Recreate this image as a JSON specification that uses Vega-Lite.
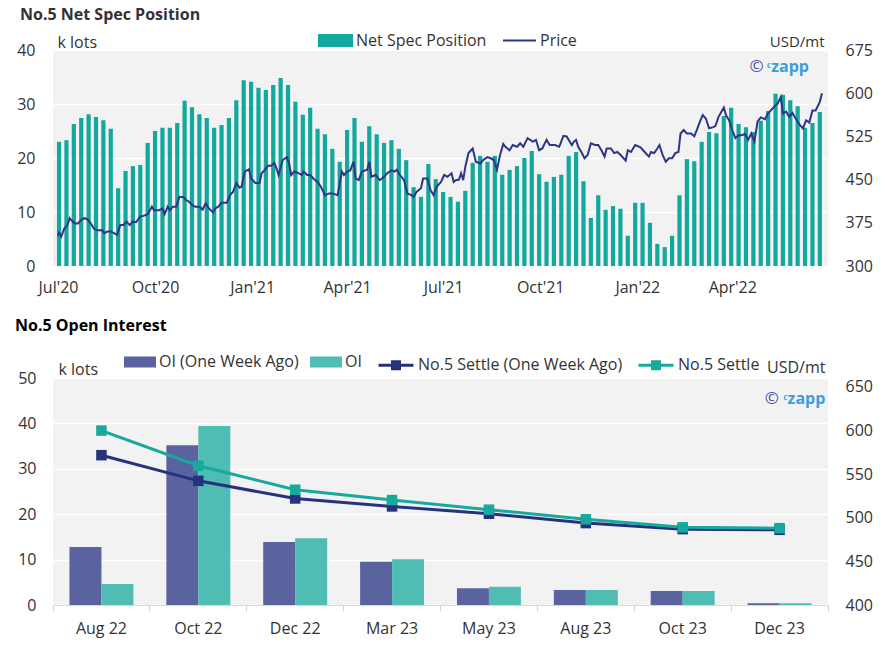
{
  "$schema": "https://vega.github.io/schema/vega-lite/v6.json",
  "background": "white",
  "padding": {"left": 15, "top": 7, "right": 5, "bottom": 5},
  "spacing": 22,
  "resolve": {"scale": {"fill": "independent", "stroke": "independent", "color": "independent"}, "legend": {"fill": "independent", "stroke": "independent", "color": "independent"}},
  "datasets": {
    "spec": [
      {"date":"2020-07-02","net":23.0},{"date":"2020-07-09","net":23.3},{"date":"2020-07-16","net":26.3},{"date":"2020-07-23","net":27.4},{"date":"2020-07-30","net":28.1},
      {"date":"2020-08-06","net":27.6},{"date":"2020-08-13","net":27.0},{"date":"2020-08-20","net":25.4},{"date":"2020-08-27","net":14.4},
      {"date":"2020-09-03","net":17.6},{"date":"2020-09-10","net":18.5},{"date":"2020-09-17","net":18.7},{"date":"2020-09-24","net":22.8},
      {"date":"2020-10-01","net":25.0},{"date":"2020-10-08","net":25.6},{"date":"2020-10-15","net":25.6},{"date":"2020-10-22","net":26.5},{"date":"2020-10-29","net":30.6},
      {"date":"2020-11-05","net":29.4},{"date":"2020-11-12","net":28.1},{"date":"2020-11-19","net":27.4},{"date":"2020-11-26","net":25.6},
      {"date":"2020-12-03","net":26.1},{"date":"2020-12-10","net":27.4},{"date":"2020-12-17","net":30.7},{"date":"2020-12-24","net":34.4},{"date":"2020-12-31","net":34.1},
      {"date":"2021-01-07","net":33.0},{"date":"2021-01-14","net":32.6},{"date":"2021-01-21","net":33.5},{"date":"2021-01-28","net":34.8},
      {"date":"2021-02-04","net":33.5},{"date":"2021-02-11","net":30.4},{"date":"2021-02-18","net":28.0},{"date":"2021-02-25","net":29.3},
      {"date":"2021-03-04","net":25.4},{"date":"2021-03-11","net":24.4},{"date":"2021-03-18","net":21.7},{"date":"2021-03-25","net":19.3},
      {"date":"2021-04-01","net":25.2},{"date":"2021-04-08","net":27.4},{"date":"2021-04-15","net":23.0},{"date":"2021-04-22","net":25.9},{"date":"2021-04-29","net":24.4},
      {"date":"2021-05-06","net":22.8},{"date":"2021-05-13","net":23.3},{"date":"2021-05-20","net":21.7},{"date":"2021-05-27","net":19.6},
      {"date":"2021-06-03","net":14.6},{"date":"2021-06-10","net":12.8},{"date":"2021-06-17","net":18.9},{"date":"2021-06-24","net":16.1},
      {"date":"2021-07-01","net":13.7},{"date":"2021-07-08","net":12.8},{"date":"2021-07-15","net":11.9},{"date":"2021-07-22","net":13.9},{"date":"2021-07-29","net":19.1},
      {"date":"2021-08-05","net":20.4},{"date":"2021-08-12","net":19.3},{"date":"2021-08-19","net":20.4},{"date":"2021-08-26","net":16.9},
      {"date":"2021-09-02","net":17.8},{"date":"2021-09-09","net":18.5},{"date":"2021-09-16","net":20.0},{"date":"2021-09-23","net":21.3},{"date":"2021-09-30","net":17.0},
      {"date":"2021-10-07","net":15.6},{"date":"2021-10-14","net":16.5},{"date":"2021-10-21","net":16.9},{"date":"2021-10-28","net":20.4},
      {"date":"2021-11-04","net":21.1},{"date":"2021-11-11","net":15.7},{"date":"2021-11-18","net":8.9},{"date":"2021-11-25","net":13.1},
      {"date":"2021-12-02","net":10.4},{"date":"2021-12-09","net":11.1},{"date":"2021-12-16","net":10.6},{"date":"2021-12-23","net":5.6},{"date":"2021-12-30","net":11.7},
      {"date":"2022-01-06","net":11.7},{"date":"2022-01-13","net":8.0},{"date":"2022-01-20","net":4.1},{"date":"2022-01-27","net":3.5},
      {"date":"2022-02-03","net":5.6},{"date":"2022-02-10","net":13.1},{"date":"2022-02-17","net":19.8},{"date":"2022-02-24","net":19.4},
      {"date":"2022-03-03","net":23.0},{"date":"2022-03-10","net":24.8},{"date":"2022-03-17","net":24.6},{"date":"2022-03-24","net":27.8},{"date":"2022-03-31","net":29.3},
      {"date":"2022-04-07","net":26.3},{"date":"2022-04-14","net":25.7},{"date":"2022-04-21","net":24.8},{"date":"2022-04-28","net":26.9},
      {"date":"2022-05-05","net":28.7},{"date":"2022-05-12","net":31.9},{"date":"2022-05-19","net":31.7},{"date":"2022-05-26","net":30.7},
      {"date":"2022-06-02","net":29.6},{"date":"2022-06-09","net":25.6},{"date":"2022-06-16","net":26.5},{"date":"2022-06-23","net":28.5}
    ],
    "price": [
      {"date":"2020-07-01","p":352},{"date":"2020-07-02","p":358},{"date":"2020-07-04","p":351},{"date":"2020-07-07","p":365},{"date":"2020-07-10","p":371},
      {"date":"2020-07-12","p":383},{"date":"2020-07-15","p":377},{"date":"2020-07-17","p":374},{"date":"2020-07-20","p":374},{"date":"2020-07-23","p":380},
      {"date":"2020-07-26","p":383},{"date":"2020-07-29","p":381},{"date":"2020-08-01","p":374},{"date":"2020-08-04","p":365},{"date":"2020-08-07","p":362},
      {"date":"2020-08-12","p":362},{"date":"2020-08-14","p":357},{"date":"2020-08-17","p":360},{"date":"2020-08-20","p":360},{"date":"2020-08-23","p":357},
      {"date":"2020-08-26","p":354},{"date":"2020-08-29","p":371},{"date":"2020-09-01","p":371},{"date":"2020-09-04","p":377},{"date":"2020-09-07","p":371},
      {"date":"2020-09-10","p":377},{"date":"2020-09-13","p":376},{"date":"2020-09-17","p":386},{"date":"2020-09-20","p":387},{"date":"2020-09-24","p":390},
      {"date":"2020-09-28","p":403},{"date":"2020-09-30","p":397},{"date":"2020-10-05","p":397},{"date":"2020-10-08","p":400},{"date":"2020-10-10","p":390},
      {"date":"2020-10-13","p":403},{"date":"2020-10-15","p":397},{"date":"2020-10-18","p":403},{"date":"2020-10-21","p":403},{"date":"2020-10-24","p":420},
      {"date":"2020-10-28","p":420},{"date":"2020-10-30","p":415},{"date":"2020-11-02","p":412},{"date":"2020-11-05","p":406},{"date":"2020-11-08","p":403},
      {"date":"2020-11-12","p":403},{"date":"2020-11-15","p":398},{"date":"2020-11-18","p":409},{"date":"2020-11-21","p":400},{"date":"2020-11-25","p":393},
      {"date":"2020-11-27","p":400},{"date":"2020-11-30","p":403},{"date":"2020-12-03","p":410},{"date":"2020-12-08","p":410},{"date":"2020-12-11","p":423},
      {"date":"2020-12-14","p":429},{"date":"2020-12-17","p":444},{"date":"2020-12-20","p":436},{"date":"2020-12-22","p":438},{"date":"2020-12-25","p":464},
      {"date":"2020-12-29","p":468},{"date":"2020-12-31","p":452},{"date":"2021-01-04","p":444},{"date":"2021-01-08","p":444},{"date":"2021-01-10","p":461},
      {"date":"2021-01-13","p":467},{"date":"2021-01-16","p":474},{"date":"2021-01-19","p":474},{"date":"2021-01-22","p":479},{"date":"2021-01-24","p":470},
      {"date":"2021-01-26","p":458},{"date":"2021-01-30","p":484},{"date":"2021-02-03","p":489},{"date":"2021-02-05","p":478},{"date":"2021-02-07","p":458},
      {"date":"2021-02-10","p":464},{"date":"2021-02-13","p":462},{"date":"2021-02-17","p":458},{"date":"2021-02-19","p":464},{"date":"2021-02-22","p":458},
      {"date":"2021-02-25","p":458},{"date":"2021-02-28","p":452},{"date":"2021-03-04","p":446},{"date":"2021-03-07","p":438},{"date":"2021-03-11","p":423},
      {"date":"2021-03-15","p":426},{"date":"2021-03-18","p":426},{"date":"2021-03-23","p":423},{"date":"2021-03-27","p":464},{"date":"2021-03-29","p":458},
      {"date":"2021-04-01","p":464},{"date":"2021-04-04","p":466},{"date":"2021-04-07","p":481},{"date":"2021-04-09","p":452},{"date":"2021-04-12","p":449},
      {"date":"2021-04-15","p":464},{"date":"2021-04-20","p":467},{"date":"2021-04-22","p":481},{"date":"2021-04-24","p":455},{"date":"2021-04-28","p":458},
      {"date":"2021-05-02","p":449},{"date":"2021-05-06","p":455},{"date":"2021-05-09","p":461},{"date":"2021-05-13","p":466},{"date":"2021-05-16","p":464},
      {"date":"2021-05-18","p":467},{"date":"2021-05-21","p":458},{"date":"2021-05-25","p":449},{"date":"2021-05-28","p":426},{"date":"2021-06-01","p":423},
      {"date":"2021-06-03","p":420},{"date":"2021-06-06","p":429},{"date":"2021-06-10","p":435},{"date":"2021-06-12","p":452},{"date":"2021-06-16","p":452},
      {"date":"2021-06-19","p":432},{"date":"2021-06-22","p":423},{"date":"2021-06-25","p":438},{"date":"2021-06-29","p":446},{"date":"2021-07-02","p":458},
      {"date":"2021-07-05","p":455},{"date":"2021-07-09","p":461},{"date":"2021-07-11","p":446},{"date":"2021-07-13","p":449},{"date":"2021-07-16","p":450},
      {"date":"2021-07-18","p":461},{"date":"2021-07-20","p":449},{"date":"2021-07-22","p":472},{"date":"2021-07-25","p":496},{"date":"2021-07-29","p":504},
      {"date":"2021-08-01","p":481},{"date":"2021-08-05","p":478},{"date":"2021-08-08","p":484},{"date":"2021-08-12","p":489},{"date":"2021-08-15","p":487},
      {"date":"2021-08-18","p":484},{"date":"2021-08-21","p":467},{"date":"2021-08-24","p":493},{"date":"2021-08-27","p":512},{"date":"2021-08-29","p":507},
      {"date":"2021-09-02","p":501},{"date":"2021-09-05","p":510},{"date":"2021-09-09","p":507},{"date":"2021-09-12","p":513},{"date":"2021-09-15","p":507},
      {"date":"2021-09-19","p":522},{"date":"2021-09-24","p":516},{"date":"2021-09-27","p":519},{"date":"2021-09-30","p":501},{"date":"2021-10-03","p":504},
      {"date":"2021-10-07","p":519},{"date":"2021-10-10","p":510},{"date":"2021-10-15","p":510},{"date":"2021-10-19","p":507},{"date":"2021-10-23","p":526},
      {"date":"2021-10-26","p":525},{"date":"2021-10-31","p":510},{"date":"2021-11-02","p":516},{"date":"2021-11-04","p":519},{"date":"2021-11-06","p":507},
      {"date":"2021-11-09","p":498},{"date":"2021-11-12","p":487},{"date":"2021-11-15","p":493},{"date":"2021-11-18","p":513},{"date":"2021-11-22","p":510},
      {"date":"2021-11-25","p":510},{"date":"2021-11-28","p":501},{"date":"2021-12-01","p":490},{"date":"2021-12-03","p":504},{"date":"2021-12-07","p":504},
      {"date":"2021-12-10","p":496},{"date":"2021-12-13","p":498},{"date":"2021-12-16","p":493},{"date":"2021-12-21","p":483},{"date":"2021-12-23","p":501},
      {"date":"2021-12-26","p":498},{"date":"2021-12-30","p":510},{"date":"2022-01-04","p":506},{"date":"2022-01-08","p":498},{"date":"2022-01-12","p":490},
      {"date":"2022-01-14","p":498},{"date":"2022-01-17","p":496},{"date":"2022-01-20","p":504},{"date":"2022-01-22","p":510},{"date":"2022-01-25","p":493},
      {"date":"2022-01-28","p":481},{"date":"2022-01-31","p":487},{"date":"2022-02-03","p":487},{"date":"2022-02-06","p":496},{"date":"2022-02-09","p":498},
      {"date":"2022-02-11","p":530},{"date":"2022-02-14","p":536},{"date":"2022-02-17","p":530},{"date":"2022-02-21","p":530},{"date":"2022-02-24","p":525},
      {"date":"2022-02-27","p":539},{"date":"2022-03-01","p":549},{"date":"2022-03-04","p":562},{"date":"2022-03-07","p":556},{"date":"2022-03-10","p":539},
      {"date":"2022-03-14","p":541},{"date":"2022-03-16","p":543},{"date":"2022-03-19","p":559},{"date":"2022-03-24","p":575},{"date":"2022-03-26","p":562},
      {"date":"2022-03-29","p":553},{"date":"2022-04-01","p":536},{"date":"2022-04-04","p":522},{"date":"2022-04-07","p":527},{"date":"2022-04-10","p":527},
      {"date":"2022-04-13","p":529},{"date":"2022-04-16","p":519},{"date":"2022-04-19","p":530},{"date":"2022-04-22","p":516},{"date":"2022-04-25","p":551},
      {"date":"2022-04-28","p":558},{"date":"2022-05-02","p":555},{"date":"2022-05-05","p":565},{"date":"2022-05-08","p":571},{"date":"2022-05-11","p":577},
      {"date":"2022-05-14","p":582},{"date":"2022-05-17","p":593},{"date":"2022-05-19","p":565},{"date":"2022-05-22","p":568},{"date":"2022-05-25","p":559},
      {"date":"2022-05-28","p":566},{"date":"2022-06-01","p":553},{"date":"2022-06-04","p":545},{"date":"2022-06-07","p":539},{"date":"2022-06-10","p":553},
      {"date":"2022-06-13","p":549},{"date":"2022-06-16","p":570},{"date":"2022-06-19","p":570},{"date":"2022-06-23","p":585},{"date":"2022-06-25","p":600}
    ],
    "oi": [
      {"m":"Aug 22","s":"OI (One Week Ago)","v":12.8},{"m":"Aug 22","s":"OI","v":4.6},
      {"m":"Oct 22","s":"OI (One Week Ago)","v":35.2},{"m":"Oct 22","s":"OI","v":39.4},
      {"m":"Dec 22","s":"OI (One Week Ago)","v":13.9},{"m":"Dec 22","s":"OI","v":14.7},
      {"m":"Mar 23","s":"OI (One Week Ago)","v":9.5},{"m":"Mar 23","s":"OI","v":10.1},
      {"m":"May 23","s":"OI (One Week Ago)","v":3.7},{"m":"May 23","s":"OI","v":4.0},
      {"m":"Aug 23","s":"OI (One Week Ago)","v":3.3},{"m":"Aug 23","s":"OI","v":3.3},
      {"m":"Oct 23","s":"OI (One Week Ago)","v":3.1},{"m":"Oct 23","s":"OI","v":3.1},
      {"m":"Dec 23","s":"OI (One Week Ago)","v":0.4},{"m":"Dec 23","s":"OI","v":0.4}
    ],
    "settle": [
      {"m":"Aug 22","s":"No.5 Settle (One Week Ago)","p":571.6},{"m":"Oct 22","s":"No.5 Settle (One Week Ago)","p":542.2},
      {"m":"Dec 22","s":"No.5 Settle (One Week Ago)","p":522.0},{"m":"Mar 23","s":"No.5 Settle (One Week Ago)","p":512.9},
      {"m":"May 23","s":"No.5 Settle (One Week Ago)","p":504.5},{"m":"Aug 23","s":"No.5 Settle (One Week Ago)","p":493.8},
      {"m":"Oct 23","s":"No.5 Settle (One Week Ago)","p":486.9},{"m":"Dec 23","s":"No.5 Settle (One Week Ago)","p":486.1},
      {"m":"Aug 22","s":"No.5 Settle","p":599.8},{"m":"Oct 22","s":"No.5 Settle","p":559.5},
      {"m":"Dec 22","s":"No.5 Settle","p":532.0},{"m":"Mar 23","s":"No.5 Settle","p":520.2},
      {"m":"May 23","s":"No.5 Settle","p":509.2},{"m":"Aug 23","s":"No.5 Settle","p":498.2},
      {"m":"Oct 23","s":"No.5 Settle","p":489.0},{"m":"Dec 23","s":"No.5 Settle","p":488.0}
    ]
  },
  "vconcat": [
    {
      "width": 775,
      "height": 216,
      "title": {"text": "No.5 Net Spec Position", "anchor": "start", "frame": "group", "dx": -33, "offset": 0, "fontSize": 16, "fontWeight": "bold", "color": "#333333"},
      "layer": [
        {
          "layer": [
            {
              "data": {"name": "spec"},
              "mark": {"type": "bar", "width": 4.2},
              "encoding": {
                "x": {
                  "field": "date", "type": "temporal",
                  "scale": {"type": "utc", "domain": [{"year": 2020, "month": 7, "date": 1, "utc": true}, {"year": 2022, "month": 6, "date": 26, "utc": true}]},
                  "axis": {
                    "title": null, "format": "%b'%y", "labelFontSize": 16, "labelPadding": 13, "grid": false, "domain": false, "ticks": false, "tickSize": 0,
                    "labelFlush": false, "labelOverlap": false,
                    "values": [
                      {"year": 2020, "month": 7, "date": 1, "utc": true}, {"year": 2020, "month": 10, "date": 1, "utc": true},
                      {"year": 2021, "month": 1, "date": 1, "utc": true}, {"year": 2021, "month": 4, "date": 1, "utc": true},
                      {"year": 2021, "month": 7, "date": 1, "utc": true}, {"year": 2021, "month": 10, "date": 1, "utc": true},
                      {"year": 2022, "month": 1, "date": 1, "utc": true}, {"year": 2022, "month": 4, "date": 1, "utc": true}
                    ]
                  }
                },
                "y": {
                  "field": "net", "type": "quantitative",
                  "scale": {"domain": [0, 40]},
                  "axis": {
                    "values": [0, 10, 20, 30, 40], "grid": true, "gridColor": "#ffffff", "gridWidth": 1.5,
                    "labelPadding": 18, "tickSize": 0, "ticks": false, "domain": false, "labelFontSize": 16,
                    "title": "k lots", "titleAngle": 0, "titleAlign": "left", "titleBaseline": "alphabetic", "titleX": 4, "titleY": -3,
                    "titleFontSize": 16, "titleFontWeight": "normal", "titleColor": "#333333"
                  }
                },
                "fill": {
                  "datum": "Net Spec Position", "type": "nominal",
                  "scale": {"range": ["#13a89e"]},
                  "legend": {
                    "title": null, "orient": "none", "legendX": 265, "legendY": -27, "direction": "horizontal",
                    "symbolType": "M-1,-0.37H1V0.37H-1Z", "symbolSize": 1225, "symbolStrokeWidth": 0,
                    "labelFontSize": 16, "labelColor": "#333333", "labelOffset": 3, "padding": 0, "labelLimit": 400
                  }
                }
              }
            },
            {
              "data": {"values": [{"t": "©"}]},
              "mark": {"type": "text", "align": "center", "baseline": "middle", "fontSize": 17, "color": "#4b4fa0"},
              "encoding": {
                "x": {"datum": {"year": 2022, "month": 4, "date": 24, "utc": true}, "type": "temporal"},
                "y": {"datum": 36.8, "type": "quantitative"},
                "text": {"field": "t"}
              }
            },
            {
              "data": {"values": [{"t": "ᶜzapp"}]},
              "mark": {"type": "text", "align": "left", "baseline": "middle", "fontSize": 16, "fontWeight": "bold", "color": "#3a9de0"},
              "encoding": {
                "x": {"datum": {"year": 2022, "month": 5, "date": 4, "utc": true}, "type": "temporal"},
                "y": {"datum": 36.8, "type": "quantitative"},
                "text": {"field": "t"}
              }
            }
          ]
        },
        {
          "data": {"name": "price"},
          "mark": {"type": "line", "strokeWidth": 2},
          "encoding": {
            "x": {"field": "date", "type": "temporal"},
            "y": {
              "field": "p", "type": "quantitative",
              "scale": {"domain": [300, 675]},
              "axis": {
                "orient": "right", "values": [300, 375, 450, 525, 600, 675], "grid": false,
                "labelPadding": 17, "tickSize": 0, "ticks": false, "domain": false, "labelFontSize": 16,
                "title": "USD/mt", "titleAngle": 0, "titleAlign": "right", "titleBaseline": "alphabetic", "titleX": -4, "titleY": -4,
                "titleFontSize": 15, "titleFontWeight": "normal", "titleColor": "#333333"
              }
            },
            "stroke": {
              "datum": "Price", "type": "nominal",
              "scale": {"range": ["#2e3587"]},
              "legend": {
                "title": null, "orient": "none", "legendX": 449, "legendY": -27, "direction": "horizontal",
                "symbolType": "stroke", "symbolSize": 1089, "symbolStrokeWidth": 2,
                "labelFontSize": 16, "labelColor": "#333333", "labelOffset": 3, "padding": 0, "labelLimit": 400
              }
            }
          }
        }
      ],
      "resolve": {"scale": {"y": "independent"}}
    },
    {
      "width": 775,
      "height": 227,
      "title": {"text": "No.5 Open Interest", "anchor": "start", "frame": "group", "dx": -38, "offset": 12.5, "fontSize": 16, "fontWeight": "bold", "color": "#000000"},
      "layer": [
        {
          "data": {"name": "oi"},
          "mark": {"type": "bar"},
          "encoding": {
            "x": {
              "field": "m", "type": "nominal",
              "scale": {"type": "band", "domain": ["Aug 22", "Oct 22", "Dec 22", "Mar 23", "May 23", "Aug 23", "Oct 23", "Dec 23"], "paddingInner": 0.34, "paddingOuter": 0.17},
              "axis": {"orient": "bottom", "title": null, "labelAngle": 0, "labelFontSize": 16, "labelPadding": 15, "ticks": false, "tickSize": 0, "domain": false, "grid": false}
            },
            "xOffset": {
              "field": "s", "type": "nominal",
              "scale": {"domain": ["OI (One Week Ago)", "OI"], "paddingInner": 0, "paddingOuter": 0}
            },
            "y": {
              "field": "v", "type": "quantitative",
              "scale": {"domain": [0, 50]},
              "axis": {
                "values": [0, 10, 20, 30, 40, 50], "grid": true, "gridColor": "#ffffff", "gridWidth": 1.5,
                "labelPadding": 17, "tickSize": 0, "ticks": false, "domain": false, "labelFontSize": 16,
                "title": "k lots", "titleAngle": 0, "titleAlign": "left", "titleBaseline": "alphabetic", "titleX": 5, "titleY": -4,
                "titleFontSize": 16, "titleFontWeight": "normal", "titleColor": "#333333"
              }
            },
            "fill": {
              "field": "s", "type": "nominal",
              "scale": {"domain": ["OI (One Week Ago)", "OI"], "range": ["#5a63a0", "#4fbdb4"]},
              "legend": {
                "title": null, "orient": "none", "legendX": 71, "legendY": -32, "direction": "horizontal",
                "symbolType": "M-1,-0.344H1V0.344H-1Z", "symbolSize": 1024, "symbolStrokeWidth": 0, "columnPadding": 11,
                "labelFontSize": 16, "labelColor": "#333333", "labelOffset": 3, "padding": 0, "labelLimit": 400
              }
            }
          }
        },
        {
          "layer": [
            {
              "data": {"name": "settle"},
              "mark": {"type": "line", "strokeWidth": 3},
              "encoding": {
                "x": {
                  "field": "m", "type": "nominal",
                  "scale": {"type": "band", "domain": ["Aug 22", "Oct 22", "Dec 22", "Mar 23", "May 23", "Aug 23", "Oct 23", "Dec 23"], "paddingInner": 0, "paddingOuter": 0},
                  "axis": {"orient": "bottom", "title": null, "labels": false, "ticks": true, "tickSize": 6, "tickColor": "#d0d0d0", "tickWidth": 1, "domain": true, "domainColor": "#d9d9d9", "domainWidth": 1, "bandPosition": 1, "tickExtra": true, "grid": false}
                },
                "y": {
                  "field": "p", "type": "quantitative",
                  "scale": {"domain": [400, 650]},
                  "axis": {
                    "orient": "right", "values": [400, 450, 500, 550, 600, 650], "grid": false,
                    "labelPadding": 17, "tickSize": 0, "ticks": false, "domain": false, "labelFontSize": 16,
                    "title": "USD/mt", "titleAngle": 0, "titleAlign": "right", "titleBaseline": "alphabetic", "titleX": -3, "titleY": -6,
                    "titleFontSize": 16, "titleFontWeight": "normal", "titleColor": "#333333"
                  }
                },
                "stroke": {
                  "field": "s", "type": "nominal",
                  "scale": {"domain": ["No.5 Settle (One Week Ago)", "No.5 Settle"], "range": ["#27327f", "#17a99b"]},
                  "legend": {
                    "title": null, "orient": "none", "legendX": 324, "legendY": -32, "direction": "horizontal",
                    "symbolType": "M-1,0H1M-0.286,-0.2H0.286M-0.286,-0.1H0.286M-0.286,0H0.286M-0.286,0.1H0.286M-0.286,0.2H0.286",
                    "symbolSize": 1225, "symbolStrokeWidth": 3, "columnPadding": 9,
                    "labelFontSize": 16, "labelColor": "#333333", "labelOffset": 3, "padding": 0, "labelLimit": 400
                  }
                }
              }
            },
            {
              "data": {"name": "settle"},
              "mark": {"type": "point", "shape": "square", "filled": true, "size": 110, "opacity": 1},
              "encoding": {
                "x": {"field": "m", "type": "nominal"},
                "y": {"field": "p", "type": "quantitative"},
                "color": {
                  "field": "s", "type": "nominal",
                  "scale": {"domain": ["No.5 Settle (One Week Ago)", "No.5 Settle"], "range": ["#27327f", "#17a99b"]},
                  "legend": null
                }
              }
            },
            {
              "data": {"values": [{"t": "©"}]},
              "mark": {"type": "text", "align": "center", "baseline": "middle", "fontSize": 17, "color": "#4b4fa0"},
              "encoding": {
                "x": {"datum": "Dec 23", "type": "nominal", "bandPosition": 0.42},
                "y": {"datum": 635.7, "type": "quantitative"},
                "text": {"field": "t"}
              }
            },
            {
              "data": {"values": [{"t": "ᶜzapp"}]},
              "mark": {"type": "text", "align": "left", "baseline": "middle", "fontSize": 16, "fontWeight": "bold", "color": "#3a9de0"},
              "encoding": {
                "x": {"datum": "Dec 23", "type": "nominal", "bandPosition": 0.54},
                "y": {"datum": 635.7, "type": "quantitative"},
                "text": {"field": "t"}
              }
            }
          ]
        }
      ],
      "resolve": {"scale": {"y": "independent", "x": "independent"}}
    }
  ],
  "config": {
    "font": "Open Sans",
    "view": {"fill": "#f2f2f2", "stroke": null},
    "axis": {"labelFont": "Open Sans", "labelColor": "#333333", "titleFont": "Open Sans"},
    "legend": {"labelFont": "Open Sans"},
    "title": {"font": "Open Sans"}
  }
}
